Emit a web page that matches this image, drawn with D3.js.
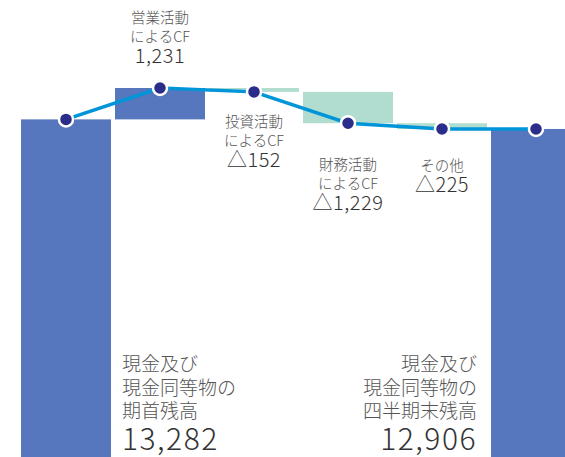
<!DOCTYPE html>
<html>
<head>
<meta charset="utf-8">
<script src="https://cdn.jsdelivr.net/npm/d3@7"></script>
<style>
  html, body { margin: 0; padding: 0; background: #fff; }
  svg { display: block; font-family: "Noto Sans CJK JP", "Noto Sans", sans-serif; font-weight: 300; }
</style>
</head>
<body>
<div id="chart"></div>
<script>
// --- data ---------------------------------------------------------------
const categories = ["期首残高", "営業活動によるCF", "投資活動によるCF", "財務活動によるCF", "その他", "四半期末残高"];
const amounts = [13282, 1231, -152, -1229, -225, 12906];
const kinds = ["total", "delta", "delta", "delta", "delta", "total"];
const nameLines = [
  ["現金及び", "現金同等物の", "期首残高"],
  ["営業活動", "によるCF"],
  ["投資活動", "によるCF"],
  ["財務活動", "によるCF"],
  ["その他"],
  ["現金及び", "現金同等物の", "四半期末残高"]
];
const valueLabels = ["13,282", "1,231", "△152", "△1,229", "△225", "12,906"];
// ------------------------------------------------------------------------

const width = 565, height = 457;

// running totals for the waterfall
let run = 0;
const rows = categories.map((c, i) => {
  let y0, y1;
  if (kinds[i] === "total") { y0 = 0; y1 = amounts[i]; }
  else { y0 = run; y1 = run + amounts[i]; }
  run = y1;
  return { cat: c, i, kind: kinds[i], value: amounts[i], y0, y1, lines: nameLines[i], label: valueLabels[i] };
});

const x = d3.scaleBand()
  .domain(categories)
  .range([21, 581])
  .paddingInner(4 / 94)
  .paddingOuter(0);

// the chart is cropped: baseline sits just below the picture
const y = d3.scaleLinear()
  .domain([0, 14513])
  .range([458, 88]);

const svg = d3.select("#chart").append("svg")
  .attr("width", width)
  .attr("height", height);

// bars
svg.append("g")
  .selectAll("rect")
  .data(rows)
  .join("rect")
    .attr("x", d => x(d.cat))
    .attr("width", x.bandwidth())
    .attr("y", d => y(Math.max(d.y0, d.y1)))
    .attr("height", d => Math.abs(y(d.y0) - y(d.y1)))
    .attr("fill", d => d.kind === "total" || d.value > 0 ? "#5677bd" : "#b1ddd0");

// line through running totals
const cx = d => x(d.cat) + x.bandwidth() / 2;
svg.append("path")
  .datum(rows)
  .attr("fill", "none")
  .attr("stroke", "#0095d9")
  .attr("stroke-width", 3.5)
  .attr("d", d3.line().x(cx).y(d => y(d.y1)));

svg.append("g")
  .selectAll("circle")
  .data(rows)
  .join("circle")
    .attr("cx", cx)
    .attr("cy", d => y(d.y1))
    .attr("r", 7)
    .attr("fill", "#2b2d8b")
    .attr("stroke", "#fff")
    .attr("stroke-width", 2.5);

// labels for the change bars
const nameColor = "#555", numColor = "#333";
// first-line baseline offset from the bar edge (positive: above top, negative: below bottom)
const labelOffset = [null, 65, -35, -47, -42, null];

rows.filter(d => d.kind === "delta").forEach(d => {
  const t = svg.append("text")
    .attr("text-anchor", "middle")
    .attr("x", cx(d));
  let base;
  if (d.value > 0) {
    base = y(d.y1) - labelOffset[d.i];
  } else {
    base = y(Math.min(d.y0, d.y1)) - labelOffset[d.i];
  }
  d.lines.forEach((ln, k) => {
    t.append("tspan")
      .attr("x", cx(d))
      .attr("y", base + k * 19)
      .attr("font-size", 14.5)
      .attr("fill", nameColor)
      .text(ln);
  });
  t.append("tspan")
    .attr("x", cx(d))
    .attr("y", base + (d.lines.length - 1) * 19 + 21)
    .attr("font-size", 20)
    .attr("letter-spacing", 0.5)
    .attr("fill", numColor)
    .text(d.label);
});

// labels for the two balance bars
const totals = rows.filter(d => d.kind === "total");
totals.forEach((d, j) => {
  const left = j === 0;
  const ax = left ? x(categories[1]) + 7 : x(categories[4]) + x.bandwidth() - 10;
  const t = svg.append("text")
    .attr("text-anchor", left ? "start" : "end");
  d.lines.forEach((ln, k) => {
    t.append("tspan")
      .attr("x", ax)
      .attr("y", 371 + k * 23.5)
      .attr("font-size", 19)
      .attr("fill", nameColor)
      .text(ln);
  });
  t.append("tspan")
    .attr("x", ax)
    .attr("y", 450)
    .attr("font-size", 30)
    .attr("letter-spacing", 1.5)
    .attr("fill", numColor)
    .text(d.label);
});
</script>
</body>
</html>
